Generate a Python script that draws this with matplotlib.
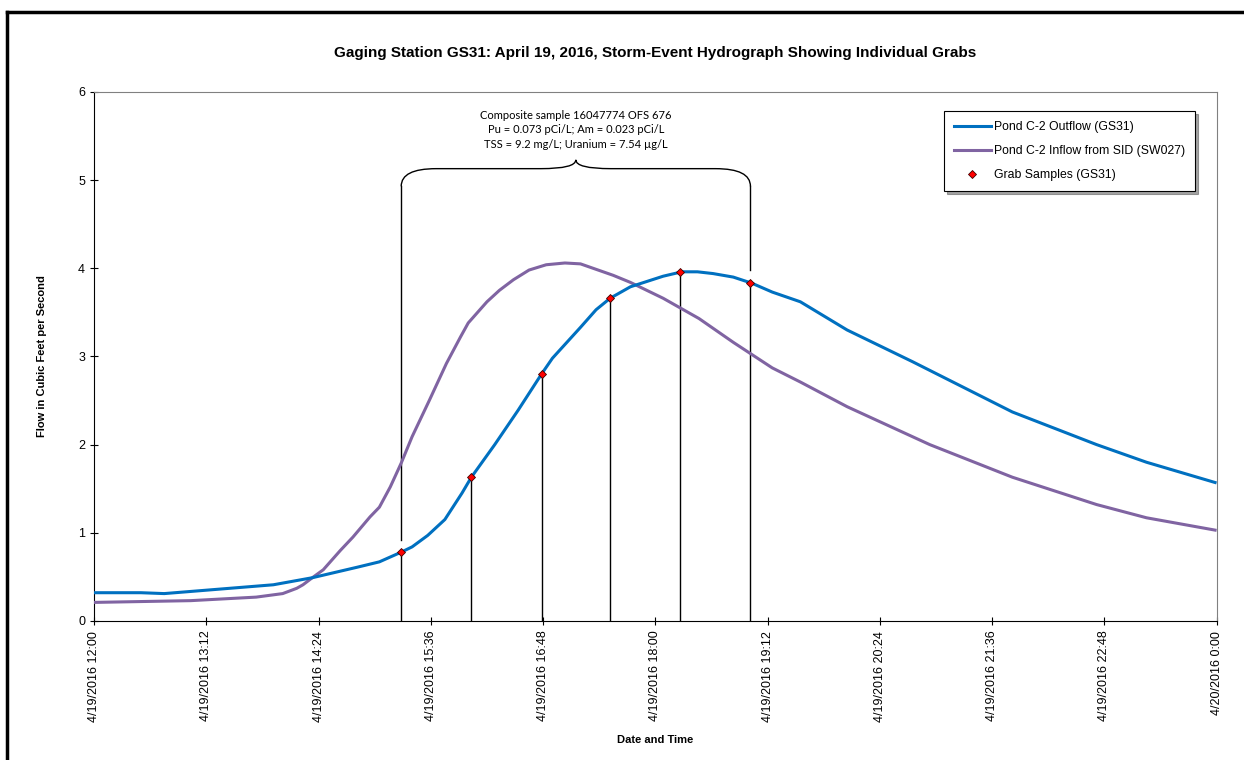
import numpy as np
import pandas as pd
import matplotlib
matplotlib.use("Agg")
import matplotlib.pyplot as plt
import matplotlib.dates as mdates
from matplotlib.path import Path
from matplotlib.patches import PathPatch
from matplotlib.lines import Line2D

plt.rcParams['font.family'] = ['Liberation Sans', 'DejaVu Sans']

day = "2016-04-19 "

# Pond C-2 outflow (GS31)
out_time = ["12:00", "12:30", "12:45", "13:20", "13:55", "14:20", "14:49", "15:03",
            "15:17", "15:24", "15:34", "15:45", "15:56", "16:02", "16:17", "16:32",
            "16:47", "16:54", "17:12", "17:22", "17:31", "17:44", "18:05", "18:17",
            "18:27", "18:37", "18:50", "19:02", "19:15", "19:33", "20:03", "20:45",
            "21:49", "22:43", "23:15", "23:59"]
out_flow = [0.32, 0.32, 0.31, 0.36, 0.41, 0.49, 0.61, 0.67,
            0.78, 0.84, 0.97, 1.15, 1.45, 1.63, 2.00, 2.39,
            2.80, 2.98, 3.33, 3.53, 3.66, 3.79, 3.91, 3.96,
            3.96, 3.94, 3.90, 3.83, 3.73, 3.62, 3.30, 2.94,
            2.37, 2.00, 1.80, 1.57]

# Pond C-2 inflow from SID (SW027)
in_time = ["12:00", "13:02", "13:44", "14:01", "14:10", "14:14", "14:20", "14:27",
           "14:38", "14:46", "14:57", "15:03", "15:10", "15:17", "15:24", "15:35",
           "15:46", "15:55", "16:00", "16:05", "16:12", "16:20", "16:29", "16:39",
           "16:50", "17:02", "17:12", "17:33", "17:44", "18:05", "18:28", "18:50",
           "19:15", "19:33", "20:03", "20:56", "21:49", "22:43", "23:15", "23:59"]
in_flow = [0.21, 0.23, 0.27, 0.31, 0.37, 0.41, 0.49, 0.58,
           0.80, 0.95, 1.18, 1.29, 1.52, 1.79, 2.09, 2.50,
           2.92, 3.22, 3.38, 3.48, 3.62, 3.75, 3.87, 3.98,
           4.04, 4.06, 4.05, 3.92, 3.84, 3.66, 3.43, 3.16,
           2.87, 2.71, 2.43, 2.00, 1.63, 1.32, 1.17, 1.03]

# grab samples (GS31)
grab_time = ["15:17", "16:02", "16:47", "17:31", "18:16", "19:01"]
grab_flow = [0.78, 1.63, 2.80, 3.66, 3.96, 3.83]

note = ("Composite sample 16047774 OFS 676\n"
        "Pu = 0.073 pCi/L; Am = 0.023 pCi/L\n"
        "TSS = 9.2 mg/L; Uranium = 7.54 \u00b5g/L")

t_out = pd.to_datetime([day + t for t in out_time])
t_in = pd.to_datetime([day + t for t in in_time])
t_grab = pd.to_datetime([day + t for t in grab_time])

fig = plt.figure(figsize=(12.44, 7.6), dpi=100)
ax = fig.add_axes([0.0756, 0.183, 0.9024, 0.696])

ax.plot(t_out, out_flow, color="#0070C0", lw=2.2, label="Pond C-2 Outflow (GS31)",
        zorder=4, solid_joinstyle="round")
ax.plot(t_in, in_flow, color="#8064A2", lw=2.2, label="Pond C-2 Inflow from SID (SW027)",
        zorder=3, solid_joinstyle="round")
ax.plot(t_grab, grab_flow, ls="none", marker="D", ms=4, color="red", mec="#400000", mew=0.6,
        label="Grab Samples (GS31)", zorder=5)

# drop lines from each grab down to the axis
for t, v in zip(t_grab, grab_flow):
    ax.plot([t, t], [0, v], color="black", lw=1, zorder=2)

# brace over the composite period
x0 = mdates.date2num(t_grab[0])
x1 = mdates.date2num(t_grab[-1])
xc = (x0 + x1) / 2
d = (x1 - x0) * 0.1
y_end, y_flat, y_tip = 4.93, 5.13, 5.23
verts = [(x0, y_end), (x0, y_flat), (x0 + d, y_flat),
         (xc - d, y_flat), (xc, y_flat), (xc, y_tip),
         (xc, y_flat), (xc + d, y_flat),
         (x1 - d, y_flat), (x1, y_flat), (x1, y_end)]
codes = [Path.MOVETO, Path.CURVE3, Path.CURVE3,
         Path.LINETO, Path.CURVE3, Path.CURVE3,
         Path.CURVE3, Path.CURVE3,
         Path.LINETO, Path.CURVE3, Path.CURVE3]
ax.add_patch(PathPatch(Path(verts, codes), fc="none", ec="black", lw=1))
ax.plot([x0, x0], [y_end, grab_flow[0] + 0.14], color="black", lw=1)
ax.plot([x1, x1], [y_end, grab_flow[-1] + 0.15], color="black", lw=1)
ax.text(xc, 5.80, note, ha="center", va="top", fontsize=8, linespacing=1.4,
        family=["Lato", "DejaVu Sans"])

ax.set_xlim(pd.Timestamp(day + "12:00"), pd.Timestamp("2016-04-20 00:00"))
ax.set_ylim(0, 6)
ticks = pd.date_range(day + "12:00", "2016-04-20 00:00", freq="72min")
ax.set_xticks(ticks)
ax.set_xticklabels([f"{t.month}/{t.day}/{t.year} {t.hour}:{t.minute:02d}" for t in ticks],
                   rotation=90, fontsize=9)
ax.set_yticks(range(7))
ax.tick_params(axis="y", labelsize=9, direction="inout", length=6)
ax.tick_params(axis="x", direction="inout", length=6, pad=4)
for s in ["top", "right"]:
    ax.spines[s].set_color("#808080")

ax.set_title("Gaging Station GS31: April 19, 2016, Storm-Event Hydrograph Showing Individual Grabs",
             fontsize=11, fontweight="bold", pad=25)
ax.set_ylabel("Flow in Cubic Feet per Second", fontsize=8, fontweight="bold", labelpad=22)
ax.set_xlabel("Date and Time", fontsize=8, fontweight="bold", labelpad=10)

leg = ax.legend(loc="upper right", bbox_to_anchor=(0.981, 0.964), fontsize=8.8,
                frameon=True, fancybox=False, shadow=True, edgecolor="black",
                labelspacing=1.0, handlelength=3.0, handletextpad=0.3,
                borderpad=0.8, borderaxespad=0)
leg.get_frame().set_linewidth(0.8)

# chart border (left and top edges visible)
fig.add_artist(Line2D([7 / 1244, 7 / 1244], [0, 1 - 12 / 760], color="black", lw=2.5,
                      transform=fig.transFigure))
fig.add_artist(Line2D([7 / 1244, 1], [1 - 12 / 760, 1 - 12 / 760], color="black", lw=2.5,
                      transform=fig.transFigure))

fig.savefig("out.png", dpi=100)
